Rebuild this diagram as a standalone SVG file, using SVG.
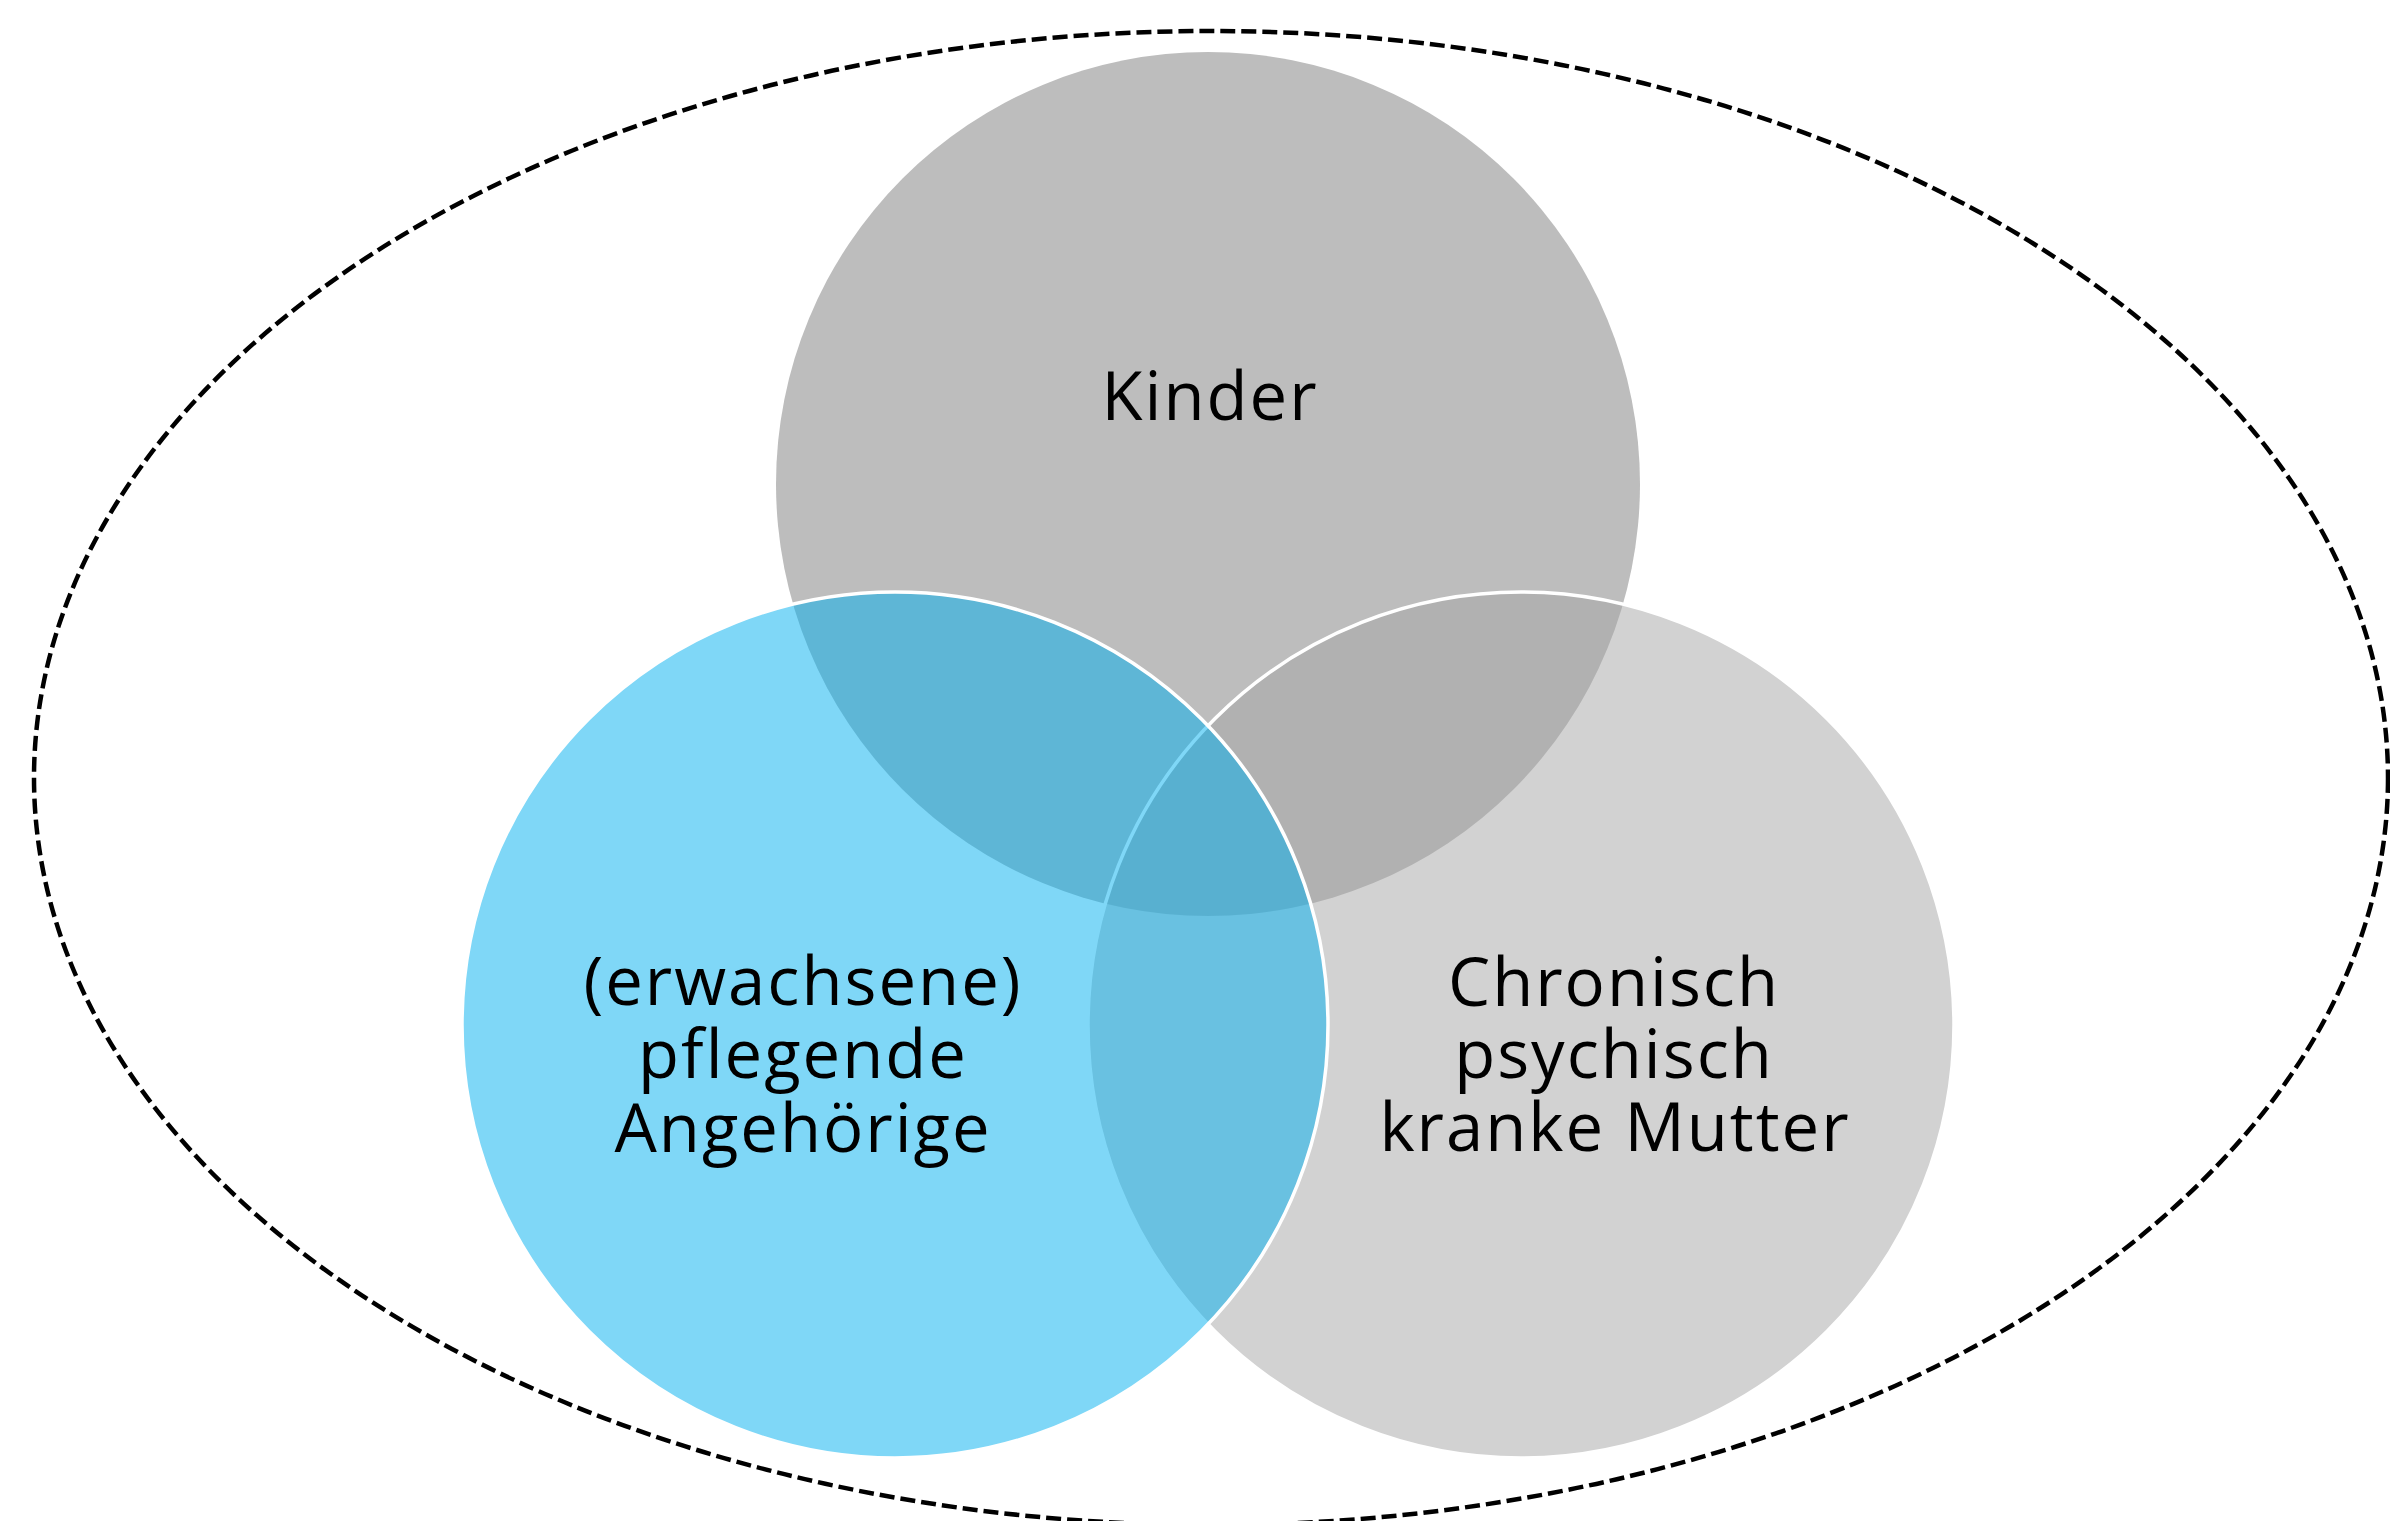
<svg xmlns="http://www.w3.org/2000/svg" width="2390" height="1521" viewBox="0 0 2390 1521">
  <style>
    .lbl { font-family: "Open Sans", "DejaVu Sans", sans-serif; font-size: 67px; letter-spacing: 2px; fill: #000000; text-anchor: middle; }
    .venn { stroke: #ffffff; stroke-width: 3.5; }
  </style>
  <rect x="0" y="0" width="2390" height="1521" fill="#ffffff"/>
  <g id="outer-ellipse">
    <ellipse cx="1211" cy="778" rx="1177" ry="747" fill="none" stroke="#000000" stroke-width="4.5" stroke-dasharray="15 6"/>
  </g>
  <g id="kinder">
    <circle cx="1208" cy="484" r="432" fill="#bdbdbd"/>
    <text class="lbl" x="1210" y="420">Kinder</text>
  </g>
  <g id="mutter">
    <circle class="venn" cx="1521" cy="1025" r="433" fill="#a5a5a5" fill-opacity="0.5"/>
  </g>
  <g id="angehoerige">
    <circle class="venn" cx="895" cy="1025" r="433" fill="#00b0f0" fill-opacity="0.5"/>
  </g>
  <g id="labels">
    <text class="lbl" x="803" y="1005">(erwachsene)</text>
    <text class="lbl" x="803" y="1078">pflegende</text>
    <text class="lbl" x="803" y="1152">Angehörige</text>
    <text class="lbl" x="1614" y="1006">Chronisch</text>
    <text class="lbl" x="1614" y="1078">psychisch</text>
    <text class="lbl" x="1615" y="1151">kranke Mutter</text>
  </g>
  <g id="connectors"></g>
</svg>
